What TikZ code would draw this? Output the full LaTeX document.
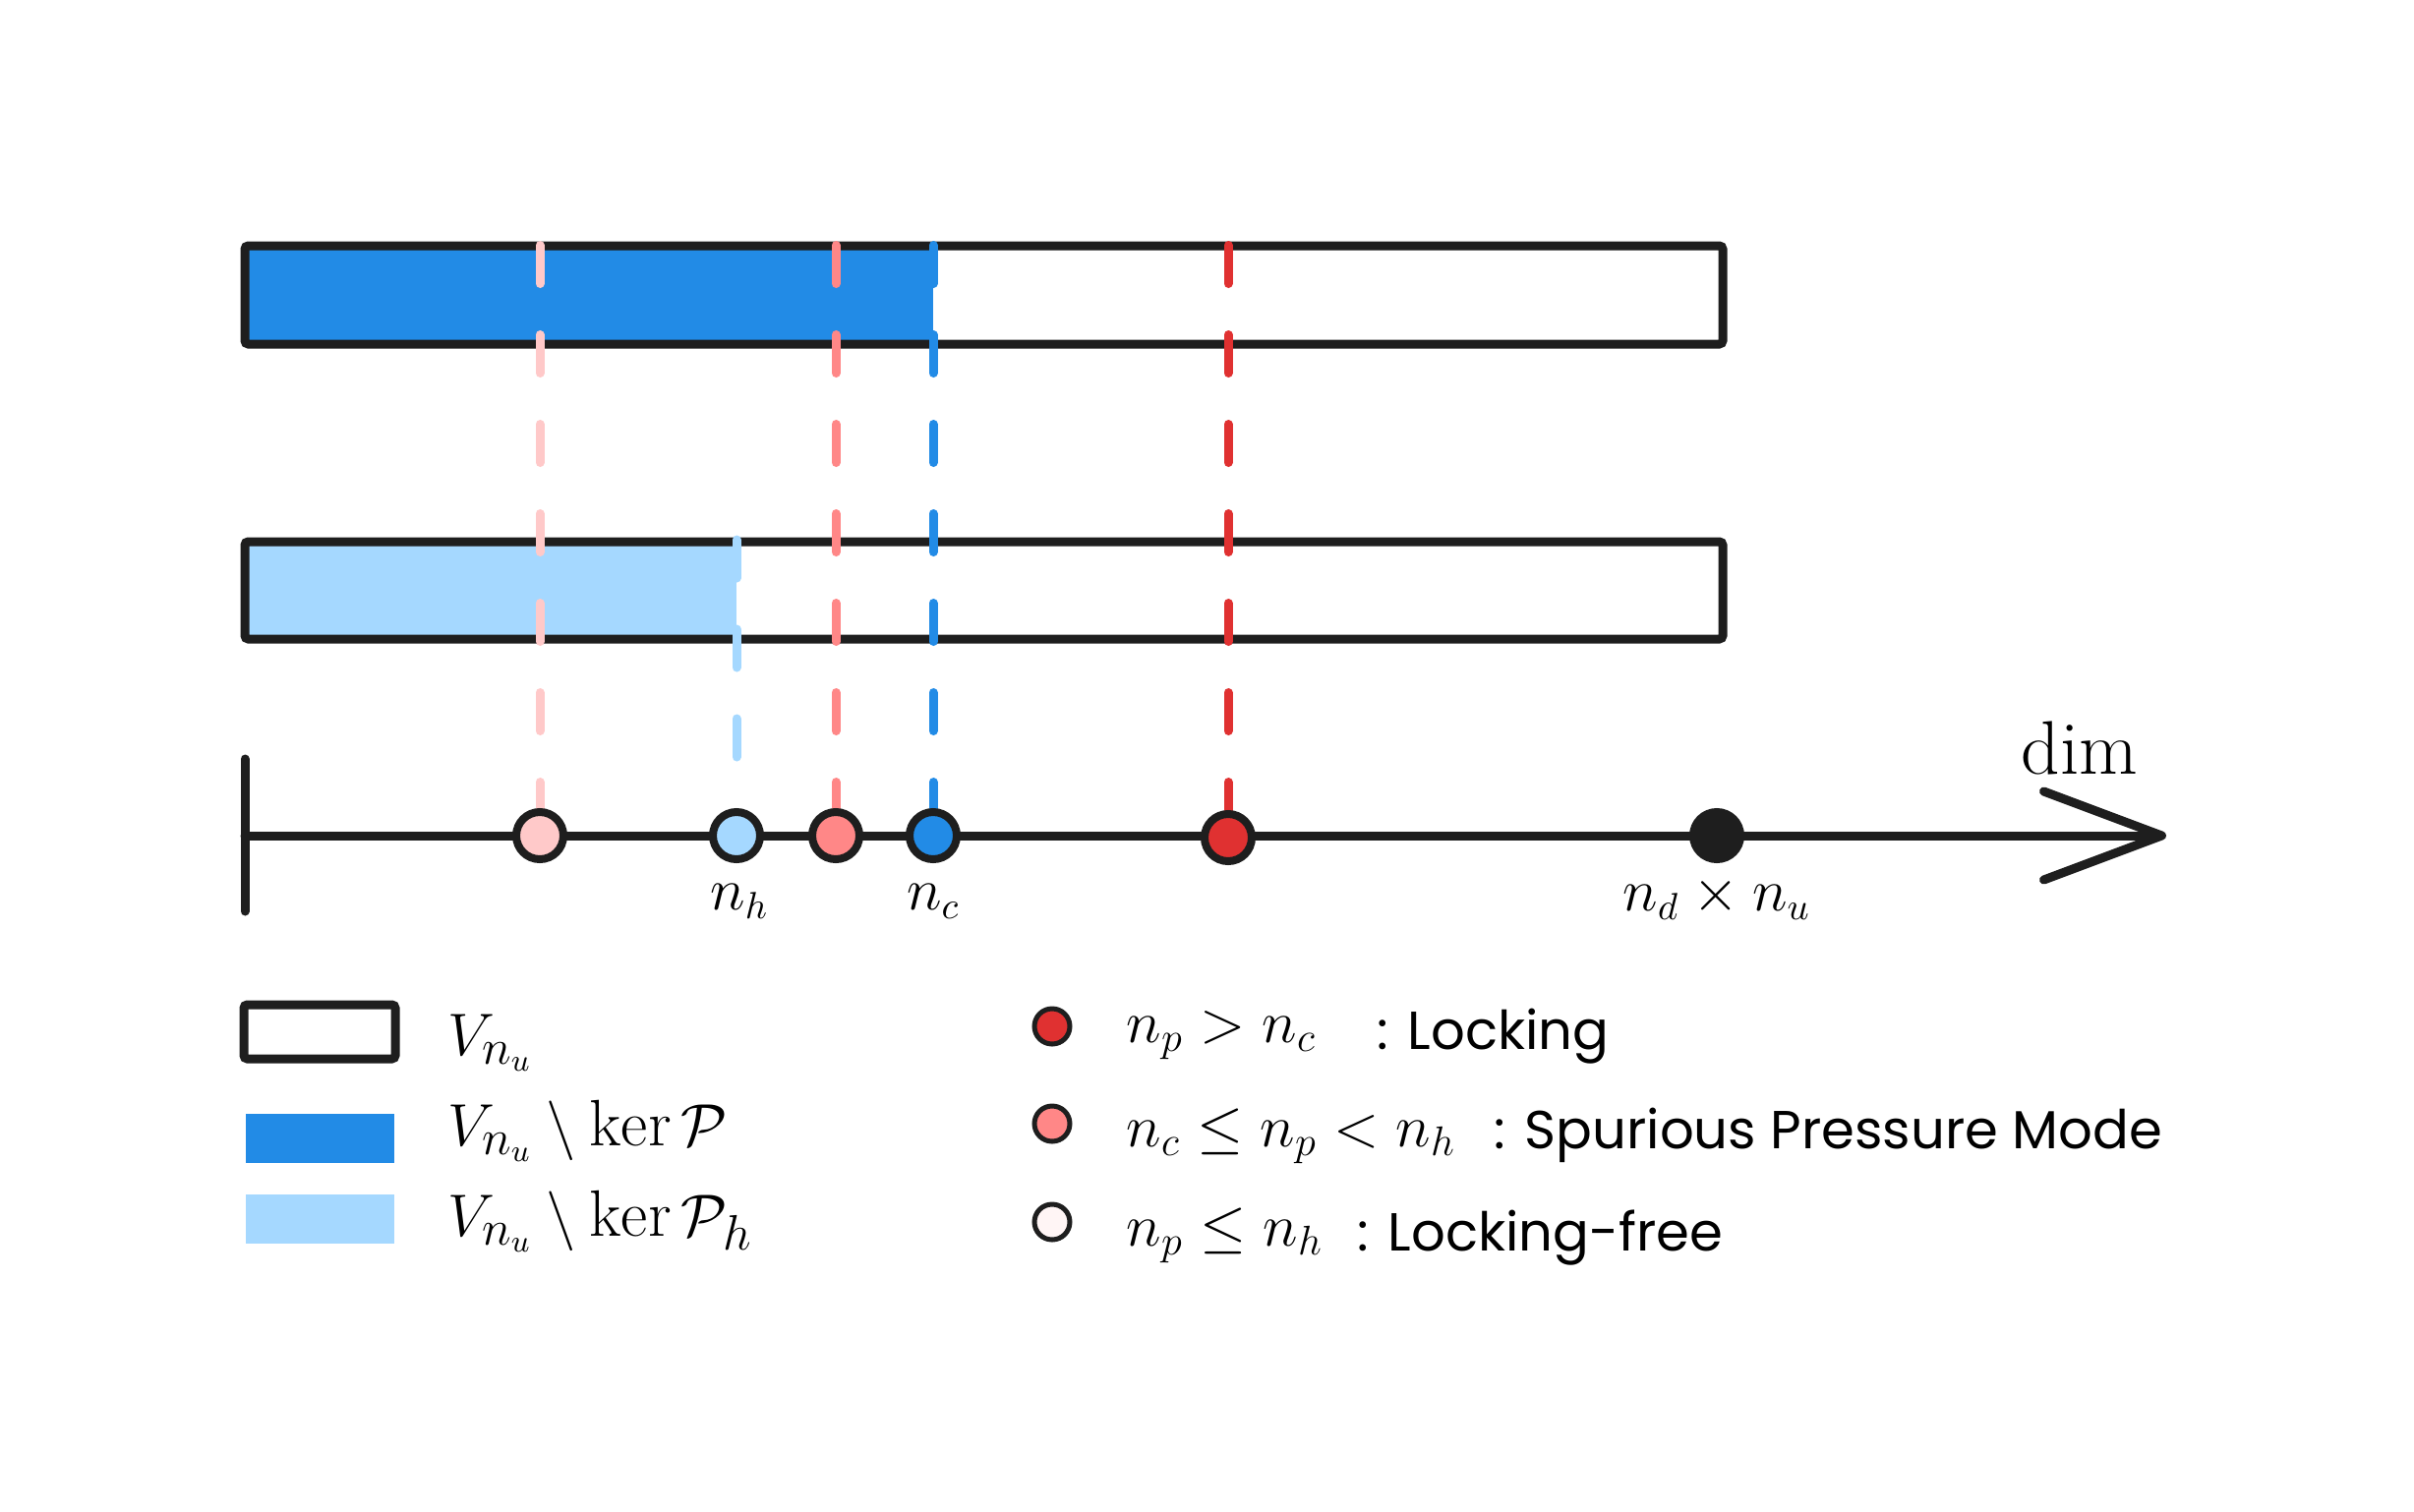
\documentclass[tikz,border=0pt]{standalone}
\usepackage{fontspec}
\newfontfamily\handfont{Poppins}
\usepackage{tikz}
\usetikzlibrary{arrows.meta,backgrounds}
\definecolor{strokec}{HTML}{1E1E1E}
\definecolor{bluec}{HTML}{228BE6}
\definecolor{lightbluec}{HTML}{A5D8FF}
\definecolor{pinkc}{HTML}{FFC9C9}
\definecolor{salmonc}{HTML}{FF8787}
\definecolor{redc}{HTML}{E03131}
\definecolor{palec}{HTML}{FFF5F5}
\newcommand{\thickness}{0.09cm}
\newcommand{\dotsize}{0.48cm}

\begin{document}
\begin{tikzpicture}[
  dot/.style={circle, draw=strokec, line width=0.08cm, minimum size=\dotsize, inner sep=0pt},
  smalldot/.style={circle, draw=strokec, line width=0.05cm, minimum size=0.36cm, inner sep=0pt},
  dashln/.style={line width=\thickness, line cap=round, dash pattern=on 0.39cm off 0.52cm},
  bar/.style={draw=strokec, line width=\thickness, rounded corners=1pt},
  axislabel/.style={inner sep=0pt, anchor=base, font=\fontsize{16}{19}\selectfont},
  legtext/.style={inner sep=0pt, anchor=base west, font=\fontsize{19}{23}\selectfont},
  legmath/.style={inner sep=0pt, anchor=base west, font=\fontsize{18}{22}\selectfont},
  handtext/.style={inner sep=0pt, anchor=base west, font=\handfont\fontsize{15.5}{19}\selectfont}]
\useasboundingbox (0,0) rectangle (24.55,-15.38);
%dots
\node[dot, fill=pinkc] (1) at (5.49, -8.50) {};
\node[dot, fill=lightbluec] (2) at (7.49, -8.50) {};
\node[dot, fill=salmonc] (3) at (8.50, -8.50) {};
\node[dot, fill=bluec] (4) at (9.49, -8.50) {};
\node[dot, fill=redc] (5) at (12.49, -8.52) {};
\node[dot, fill=strokec] (6) at (17.46, -8.50) {};
\coordinate (t1) at (5.49, -2.495);
\coordinate (t2) at (7.49, -5.49);
\coordinate (b2) at (7.49, -7.70);
\coordinate (t3) at (8.50, -2.495);
\coordinate (t4) at (9.49, -2.495);
\coordinate (t5) at (12.49, -2.495);
\coordinate (o) at (2.49, -8.50);
\coordinate (e) at (22.03, -8.50);
\coordinate (o1) at (2.49, -7.72);
\coordinate (o2) at (2.49, -9.27);
%bars
\begin{scope}[on background layer]
\fill[bluec] (2.49, -2.50) rectangle (9.49, -3.50);
\draw[bar] (2.49, -2.50) rectangle (17.52, -3.50);
\fill[lightbluec] (2.49, -5.51) rectangle (7.49, -6.50);
\draw[bar] (2.49, -5.51) rectangle (17.52, -6.50);
\draw[dashln, pinkc] (t1) -- (1);
\draw[dashln, lightbluec] (t2) -- (b2);
\draw[dashln, salmonc] (t3) -- (3);
\draw[dashln, bluec] (t4) -- (4);
\draw[dashln, redc] (t5) -- (5);
\draw[strokec, line width=\thickness, line cap=round, -{Straight Barb[length=1.2cm, width=0.9cm, round]}] (o) -- (e);
\draw[strokec, line width=\thickness, line cap=round] (o1) -- (o2);
\end{scope}
%labels
\node[axislabel] (nh) at (7.52, -9.25) {$n_h$};
\node[axislabel] (nc) at (9.49, -9.25) {$n_c$};
\node[axislabel] (nd) at (17.46, -9.26) {$n_d \times n_u$};
\node[axislabel, font=\fontsize{22}{26}\selectfont] (dim) at (21.15, -7.87) {$\dim$};
%legend
\draw[bar] (2.48, -10.22) rectangle (4.02, -10.77);
\fill[bluec] (2.50, -11.33) rectangle (4.01, -11.83);
\fill[lightbluec] (2.50, -12.15) rectangle (4.01, -12.65);
\node[legtext] (l1) at (4.55, -10.73) {$V_{n_u}$};
\node[legtext] (l2) at (4.55, -11.65) {$V_{n_u}\setminus\ker\mathcal{P}$};
\node[legtext] (l3) at (4.55, -12.57) {$V_{n_u}\setminus\ker\mathcal{P}_h$};
\node[smalldot, fill=redc] (7) at (10.70, -10.44) {};
\node[smalldot, fill=salmonc] (8) at (10.70, -11.43) {};
\node[smalldot, fill=palec] (9) at (10.70, -12.43) {};
\node[legmath] (m1) at (11.45, -10.60) {$n_p > n_c$};
\node[legmath] (m2) at (11.45, -11.66) {$n_c \leq n_p < n_h$};
\node[legmath] (m3) at (11.45, -12.67) {$n_p \leq n_h$};
\node[handtext] (d1) at (14.00, -10.67) {: Locking};
\node[handtext] (d2) at (15.19, -11.68) {: Spurious Pressure Mode};
\node[handtext] (d3) at (13.80, -12.72) {: Locking-free};
\end{tikzpicture}
\end{document}
